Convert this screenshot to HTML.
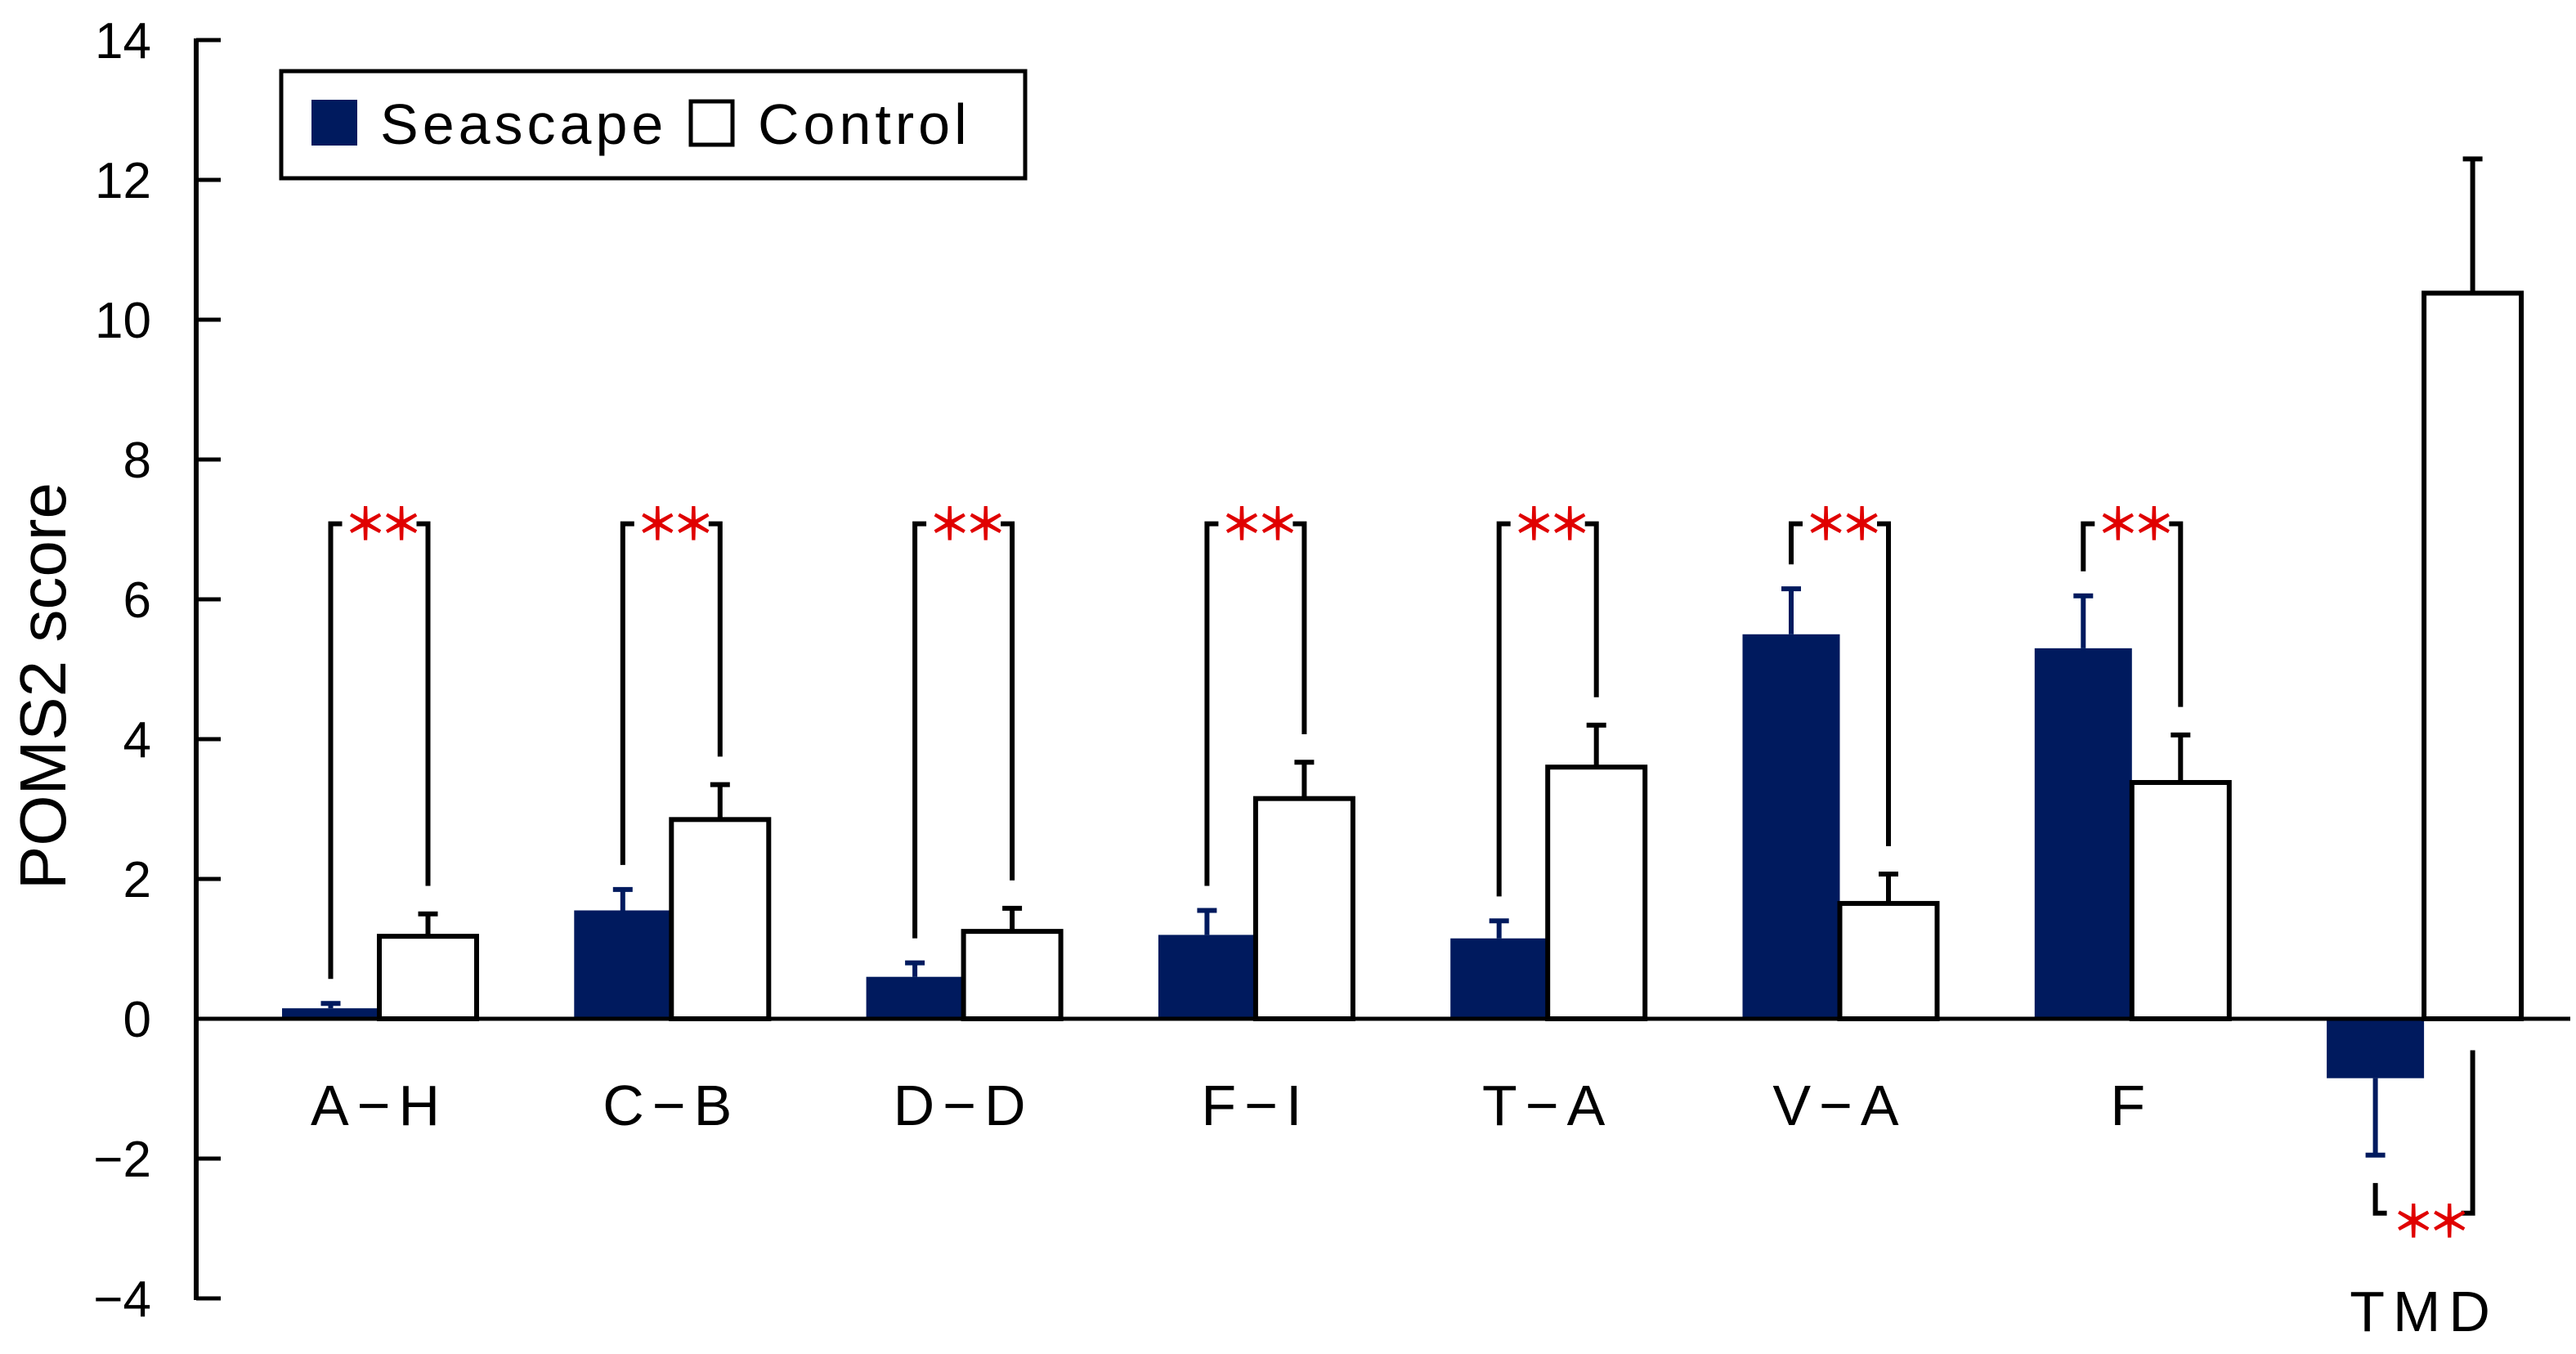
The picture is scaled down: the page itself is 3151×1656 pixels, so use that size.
<!DOCTYPE html>
<html><head><meta charset="utf-8">
<style>
html,body{margin:0;padding:0;background:#fff;}
svg{display:block;font-family:"Liberation Sans","Noto Sans CJK JP",sans-serif;}
</style></head>
<body>
<svg id="chart" width="3151" height="1656" viewBox="0 0 3151 1656" xmlns="http://www.w3.org/2000/svg">
  <g id="axes"></g>
  <g id="bars"></g>
  <g id="sig"></g>
  <text x="0" y="0" transform="translate(80,839) rotate(-90)" font-size="80" text-anchor="middle">POMS2 score</text>
  <g>
    <rect x="344" y="87" width="910" height="131" fill="#fff" stroke="#000" stroke-width="5"/>
    <rect x="381" y="122" width="56" height="56" fill="#001A5E"/>
    <text x="465" y="176" font-size="70" letter-spacing="5">Seascape</text>
    <rect x="845" y="124" width="51" height="53" fill="#fff" stroke="#000" stroke-width="5"/>
    <text x="927" y="176" font-size="70" letter-spacing="5">Control</text>
  </g>
</svg>
<script>
const categories = ["A\u2212H","C\u2212B","D\u2212D","F\u2212I","T\u2212A","V\u2212A","F","TMD"];
const seascapeValues = [0.15,1.55,0.6,1.2,1.15,5.5,5.3,-0.85];
const seascapeErrors = [0.07,0.3,0.2,0.35,0.25,0.65,0.75,1.1];
const controlValues = [1.18,2.85,1.25,3.15,3.6,1.65,3.38,10.38];
const controlErrors = [0.32,0.5,0.33,0.52,0.6,0.42,0.68,1.92];
const significance = ["**","**","**","**","**","**","**","**"];
const yTicks = [-4,-2,0,2,4,6,8,10,12,14];

const NS = "http://www.w3.org/2000/svg";
const X0 = 240, Y0 = 1246, PPU = 85.5, GAP = 357.3, FIRST = 464, BW = 119;
function y(v){ return Y0 - v*PPU; }
function gx(i){ return FIRST + i*GAP; }
function mk(tag, attrs, parent){
  const e = document.createElementNS(NS, tag);
  for (const k in attrs) e.setAttribute(k, attrs[k]);
  parent.appendChild(e);
  return e;
}
function starText(s){ return s.replace(/\*/g, "\uFF0A"); }
const axes = document.getElementById('axes');
const bars = document.getElementById('bars');
const sig = document.getElementById('sig');

let ax = mk('line',{x1:X0,y1:y(14)-2,x2:X0,y2:y(-4)+2,stroke:'#000','stroke-width':6},axes);


yTicks.forEach(t=>{
  const tk = mk('line',{x1:X0,y1:y(t),x2:X0+30,y2:y(t),stroke:'#000','stroke-width':5},axes);
  
  
  const lb = mk('text',{x:185,y:y(t)+22,'font-size':62,'text-anchor':'end'},axes);
  lb.textContent = t<0 ? "\u2212"+Math.abs(t) : String(t);
  
  
});

categories.forEach((c,i)=>{
  const cx = gx(i);
  const sx = cx - BW, ccx = cx;
  const sv = seascapeValues[i], cv = controlValues[i];
  const sb = mk('rect',{x:sx,y:Math.min(y(sv),Y0),width:BW,height:Math.abs(y(sv)-Y0),fill:'#001A5E'},bars);
  
  
  const se = sv + (sv>=0?1:-1)*seascapeErrors[i];
  const sc = sx + BW/2;
  const e1 = mk('path',{d:`M${sc},${y(sv)} L${sc},${y(se)} M${sc-12},${y(se)} L${sc+12},${y(se)}`,stroke:'#001A5E','stroke-width':6,fill:'none'},bars);
  
  
  const ce = cv + controlErrors[i];
  const cc = ccx + BW/2;
  const e2 = mk('path',{d:`M${cc},${y(cv)} L${cc},${y(ce)} M${cc-12},${y(ce)} L${cc+12},${y(ce)}`,stroke:'#000','stroke-width':6,fill:'none'},bars);
  
  
  const cb = mk('rect',{x:ccx,y:y(cv),width:BW,height:Y0-y(cv),fill:'#fff',stroke:'#000','stroke-width':6},bars);
  
  
  const isNeg = sv < 0;
  const lb = mk('text',{x:cx,y:isNeg?1628:1376,'font-size':70,'text-anchor':'middle','letter-spacing':10},axes);
  lb.textContent = c;
  
  
  if (!isNeg){
    const top = y(7.08);
    const lEnd = y(se + 0.35), rEnd = y(ce + 0.4);
    const br = mk('path',{d:`M${sc},${lEnd} L${sc},${top} L${sc+14},${top} M${cc},${rEnd} L${cc},${top} L${cc-14},${top}`,stroke:'#000','stroke-width':6,fill:'none'},sig);
    
    
    const st = mk('text',{x:(sc+cc)/2,y:top+20,'font-size':54,'text-anchor':'middle',fill:'#E00000','font-family':'"Noto Sans CJK JP",sans-serif','font-weight':'bold','letter-spacing':-10},sig);
    st.textContent = starText(significance[i]);
    
    
  } else {
    const bot = y(-2.78);
    const br = mk('path',{d:`M${sc},${y(-2.35)} L${sc},${bot} L${sc+14},${bot} M${cc},${y(-0.45)} L${cc},${bot} L${cc-14},${bot}`,stroke:'#000','stroke-width':6,fill:'none'},sig);
    
    
    const st = mk('text',{x:(sc+cc)/2+4,y:bot+30,'font-size':54,'text-anchor':'middle',fill:'#E00000','font-family':'"Noto Sans CJK JP",sans-serif','font-weight':'bold','letter-spacing':-10},sig);
    st.textContent = starText(significance[i]);
    
    
  }
});
const zl = mk('line',{x1:X0,y1:Y0,x2:3144,y2:Y0,stroke:'#000','stroke-width':5},bars);


</script>
</body></html>
